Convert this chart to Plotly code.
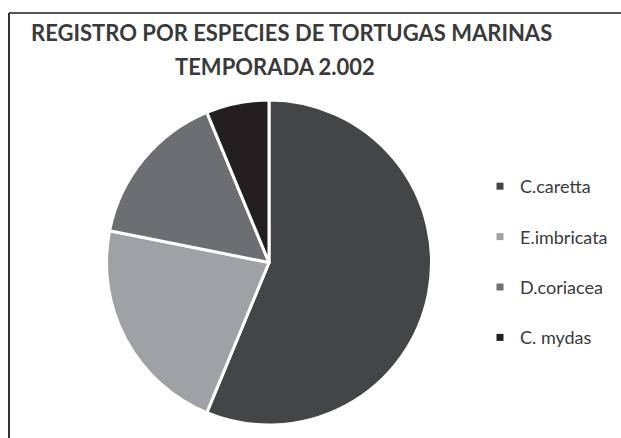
import plotly.graph_objects as go

labels = ["C.caretta", "E.imbricata", "D.coriacea", "C. mydas"]
values = [18, 7, 5, 2]
colors = ["#444547", "#a0a1a4", "#6d6e71", "#231f20"]
title_lines = ["REGISTRO POR ESPECIES DE TORTUGAS MARINAS", "TEMPORADA 2.002"]

W, H = 621, 438
fig = go.Figure()
fig.add_trace(go.Pie(
    labels=labels, values=values, sort=False, direction="clockwise", rotation=0,
    marker=dict(colors=colors, line=dict(color="white", width=3)),
    textinfo="none", hoverinfo="label+value+percent", showlegend=False,
    domain=dict(x=[106.5 / W, 431.5 / W], y=[1 - 425 / H, 1 - 100 / H]),
))
for i, (lab, col) in enumerate(zip(labels, colors)):
    fig.add_trace(go.Scatter(
        x=[None], y=[None], mode="markers", name=lab, legendgroup=lab,
        marker=dict(symbol="square", size=7, color=col),
    ))

fig.update_layout(
    width=W, height=H, margin=dict(l=0, r=0, t=0, b=0, autoexpand=False),
    paper_bgcolor="white", plot_bgcolor="white",
    xaxis=dict(visible=False), yaxis=dict(visible=False),
    showlegend=True,
    legend=dict(x=480 / W, y=1 - 168 / H, xanchor="left", yanchor="top",
                font=dict(family="Lato", size=18, color="#3a3a3a"),
                tracegroupgap=24, itemwidth=30, bgcolor="rgba(0,0,0,0)"),
    shapes=[
        dict(type="line", xref="paper", yref="paper", x0=9 / W, x1=1, y0=1 - 13 / H, y1=1 - 13 / H,
             line=dict(color="#555555", width=2)),
        dict(type="line", xref="paper", yref="paper", x0=9 / W, x1=9 / W, y0=0, y1=1 - 13 / H,
             line=dict(color="#333333", width=2)),
    ],
    annotations=[
        dict(text="<b>%s</b>" % title_lines[0], x=291 / W, y=1 - 48 / H, xref="paper", yref="paper",
             xanchor="center", yanchor="bottom", showarrow=False,
             font=dict(family="Lato", size=22, color="#3a3a3a")),
        dict(text="<b>%s</b>" % title_lines[1], x=275 / W, y=1 - 82 / H, xref="paper", yref="paper",
             xanchor="center", yanchor="bottom", showarrow=False,
             font=dict(family="Lato", size=22, color="#3a3a3a")),
    ],
)
fig.write_html("out.html", config={"displayModeBar": False},
               post_script="document.body.style.margin='0';document.body.style.overflow='hidden';")
